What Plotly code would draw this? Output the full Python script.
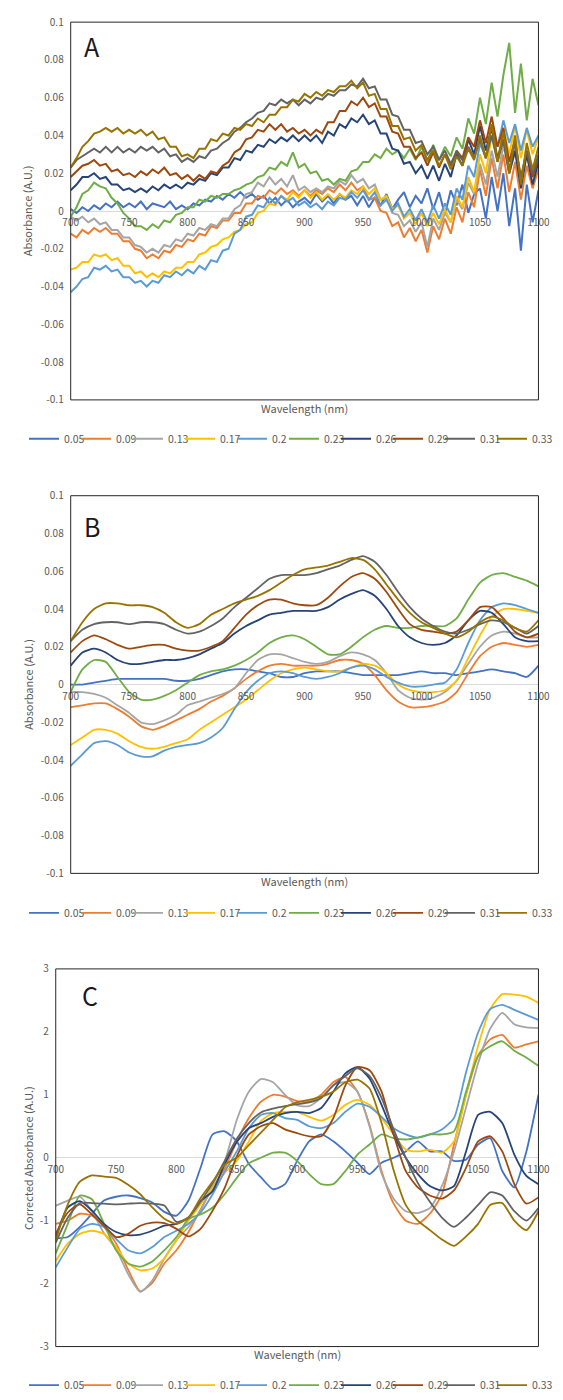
import plotly.graph_objects as go

# ---------------------------------------------------------------- data
WL_RAW = list(range(700, 1101, 5))      # raw spectra sampling (nm)
WL_SMOOTH = list(range(700, 1101, 10))  # smoothed / corrected spectra (nm)

LABELS = ["0.05", "0.09", "0.13", "0.17", "0.2", "0.23", "0.26", "0.29", "0.31", "0.33"]
COLORS = ["#4472C4", "#ED7D31", "#A5A5A5", "#FFC000", "#5B9BD5",
          "#70AD47", "#264478", "#9E480E", "#636363", "#997300"]

X_TICKS = [700, 750, 800, 850, 900, 950, 1000, 1050, 1100]
ABS_TICKS = [-0.1, -0.08, -0.06, -0.04, -0.02, 0, 0.02, 0.04, 0.06, 0.08, 0.1]
ABS_TICKTEXT = ["-0.1", "-0.08", "-0.06", "-0.04", "-0.02", "0", "0.02", "0.04", "0.06", "0.08", "0.1"]
CORR_TICKS = [-3, -2, -1, 0, 1, 2, 3]
CORR_TICKTEXT = ["-3", "-2", "-1", "0", "1", "2", "3"]

# A: raw absorbance
A_005 = [0.001, -0.001, 0.002, 0.000, 0.003, 0.001, 0.004, 0.002, 0.005, 0.002,
         0.004, 0.002, 0.005, 0.001, 0.004, 0.003, 0.002, 0.005, 0.001, 0.003,
         0.001, 0.004, 0.003, 0.006, 0.005, 0.008, 0.006, 0.009, 0.007, 0.010,
         0.007, 0.009, 0.006, 0.008, 0.004, 0.007, 0.003, 0.006, 0.002, 0.005,
         0.007, 0.004, 0.009, 0.005, 0.008, 0.004, 0.009, 0.006, 0.008, 0.003,
         0.008, 0.002, 0.007, 0.003, 0.009, 0.001, 0.006, 0.010, 0.002, 0.008,
         0.004, 0.012, 0.001, 0.010, -0.002, 0.011, 0.003, 0.014, -0.001, 0.009,
         0.012, -0.004, 0.018, 0.000, 0.020, -0.008, 0.012, -0.021, 0.014, -0.006,
         0.011]
A_009 = [-0.012, -0.014, -0.010, -0.012, -0.009, -0.011, -0.009, -0.012, -0.012, -0.016,
         -0.016, -0.020, -0.021, -0.025, -0.023, -0.025, -0.021, -0.022, -0.018, -0.019,
         -0.015, -0.016, -0.012, -0.013, -0.008, -0.009, -0.005, -0.005, -0.001, -0.001,
         0.004, 0.004, 0.008, 0.007, 0.011, 0.009, 0.012, 0.009, 0.011, 0.008,
         0.011, 0.008, 0.011, 0.009, 0.012, 0.010, 0.014, 0.011, 0.015, 0.011,
         0.013, 0.006, 0.007, 0.000, -0.001, -0.008, -0.006, -0.014, -0.009, -0.016,
         -0.010, -0.022, -0.008, -0.015, -0.004, -0.012, 0.002, -0.006, 0.010, 0.002,
         0.022, 0.008, 0.028, 0.012, 0.030, 0.010, 0.026, 0.006, 0.024, 0.012,
         0.022]
A_013 = [-0.003, -0.005, -0.003, -0.006, -0.004, -0.007, -0.006, -0.010, -0.010, -0.014,
         -0.014, -0.018, -0.019, -0.022, -0.020, -0.022, -0.018, -0.019, -0.015, -0.016,
         -0.012, -0.013, -0.009, -0.010, -0.007, -0.008, -0.004, -0.004, 0.001, 0.003,
         0.009, 0.010, 0.015, 0.013, 0.018, 0.014, 0.017, 0.013, 0.019, 0.011,
         0.013, 0.010, 0.012, 0.010, 0.013, 0.012, 0.016, 0.014, 0.019, 0.015,
         0.017, 0.012, 0.014, 0.006, 0.007, -0.001, -0.002, -0.008, -0.005, -0.011,
         -0.006, -0.019, -0.004, -0.010, -0.001, -0.006, 0.006, 0.001, 0.015, 0.009,
         0.025, 0.014, 0.032, 0.018, 0.035, 0.020, 0.031, 0.016, 0.030, 0.018,
         0.026]
A_017 = [-0.031, -0.030, -0.027, -0.027, -0.023, -0.024, -0.023, -0.026, -0.025, -0.029,
         -0.029, -0.033, -0.032, -0.035, -0.033, -0.035, -0.032, -0.033, -0.030, -0.030,
         -0.027, -0.027, -0.023, -0.022, -0.019, -0.018, -0.015, -0.014, -0.011, -0.010,
         -0.007, -0.006, -0.001, 0.000, 0.004, 0.003, 0.008, 0.006, 0.010, 0.007,
         0.011, 0.007, 0.010, 0.006, 0.009, 0.006, 0.009, 0.007, 0.011, 0.009,
         0.013, 0.009, 0.012, 0.006, 0.008, 0.001, 0.003, -0.004, -0.001, -0.007,
         -0.001, -0.008, -0.001, -0.007, 0.001, -0.006, 0.008, 0.002, 0.018, 0.010,
         0.030, 0.020, 0.040, 0.026, 0.044, 0.030, 0.045, 0.028, 0.043, 0.030,
         0.039]
A_020 = [-0.043, -0.040, -0.036, -0.035, -0.030, -0.031, -0.029, -0.032, -0.031, -0.035,
         -0.035, -0.038, -0.037, -0.040, -0.037, -0.038, -0.034, -0.035, -0.032, -0.034,
         -0.031, -0.033, -0.029, -0.031, -0.026, -0.027, -0.021, -0.020, -0.012, -0.010,
         -0.003, -0.002, 0.003, 0.002, 0.007, 0.004, 0.008, 0.005, 0.007, 0.003,
         0.005, 0.002, 0.004, 0.001, 0.005, 0.003, 0.007, 0.006, 0.010, 0.007,
         0.011, 0.006, 0.010, 0.003, 0.006, 0.000, 0.004, -0.003, 0.001, -0.005,
         0.001, -0.006, 0.003, -0.004, 0.004, -0.002, 0.012, 0.006, 0.024, 0.018,
         0.036, 0.028, 0.045, 0.034, 0.048, 0.036, 0.046, 0.032, 0.044, 0.034,
         0.040]
A_023 = [-0.003, 0.002, 0.009, 0.011, 0.015, 0.013, 0.012, 0.007, 0.004, -0.001,
         -0.004, -0.008, -0.008, -0.010, -0.007, -0.009, -0.005, -0.006, -0.002, -0.001,
         0.002, 0.002, 0.006, 0.005, 0.008, 0.007, 0.009, 0.009, 0.011, 0.012,
         0.014, 0.015, 0.018, 0.019, 0.023, 0.022, 0.026, 0.024, 0.031, 0.023,
         0.025, 0.020, 0.021, 0.016, 0.017, 0.014, 0.017, 0.016, 0.021, 0.022,
         0.026, 0.026, 0.030, 0.028, 0.033, 0.030, 0.032, 0.028, 0.033, 0.027,
         0.034, 0.026, 0.035, 0.027, 0.034, 0.029, 0.039, 0.033, 0.049, 0.041,
         0.060, 0.046, 0.068, 0.050, 0.072, 0.089, 0.052, 0.078, 0.048, 0.070,
         0.056]
A_026 = [0.011, 0.014, 0.018, 0.018, 0.020, 0.017, 0.018, 0.014, 0.014, 0.011,
         0.012, 0.010, 0.012, 0.010, 0.013, 0.011, 0.014, 0.012, 0.014, 0.012,
         0.015, 0.014, 0.017, 0.016, 0.020, 0.019, 0.023, 0.023, 0.028, 0.027,
         0.032, 0.031, 0.035, 0.034, 0.038, 0.036, 0.039, 0.037, 0.040, 0.037,
         0.040, 0.037, 0.040, 0.036, 0.042, 0.040, 0.046, 0.044, 0.049, 0.047,
         0.051, 0.046, 0.048, 0.041, 0.041, 0.033, 0.032, 0.025, 0.026, 0.020,
         0.024, 0.017, 0.024, 0.016, 0.025, 0.018, 0.030, 0.024, 0.038, 0.030,
         0.045, 0.032, 0.044, 0.028, 0.038, 0.020, 0.032, 0.012, 0.030, 0.014,
         0.026]
A_029 = [0.018, 0.021, 0.024, 0.025, 0.027, 0.024, 0.025, 0.021, 0.022, 0.019,
         0.020, 0.018, 0.021, 0.019, 0.022, 0.020, 0.023, 0.019, 0.020, 0.017,
         0.019, 0.016, 0.019, 0.017, 0.021, 0.020, 0.024, 0.026, 0.031, 0.033,
         0.038, 0.039, 0.043, 0.042, 0.046, 0.043, 0.046, 0.042, 0.044, 0.041,
         0.043, 0.040, 0.043, 0.041, 0.047, 0.047, 0.053, 0.053, 0.058, 0.056,
         0.060, 0.055, 0.057, 0.050, 0.050, 0.042, 0.041, 0.034, 0.034, 0.028,
         0.031, 0.024, 0.031, 0.023, 0.030, 0.024, 0.032, 0.028, 0.039, 0.034,
         0.048, 0.036, 0.050, 0.034, 0.044, 0.026, 0.038, 0.016, 0.032, 0.018,
         0.028]
A_031 = [0.023, 0.027, 0.029, 0.031, 0.033, 0.031, 0.034, 0.031, 0.034, 0.031,
         0.033, 0.031, 0.034, 0.032, 0.034, 0.031, 0.033, 0.029, 0.030, 0.026,
         0.028, 0.026, 0.029, 0.028, 0.032, 0.033, 0.036, 0.038, 0.042, 0.044,
         0.047, 0.049, 0.052, 0.053, 0.057, 0.056, 0.059, 0.057, 0.059, 0.056,
         0.059, 0.057, 0.060, 0.059, 0.062, 0.061, 0.064, 0.064, 0.067, 0.066,
         0.070, 0.065, 0.066, 0.059, 0.059, 0.051, 0.050, 0.043, 0.043, 0.036,
         0.037, 0.030, 0.034, 0.027, 0.032, 0.025, 0.031, 0.027, 0.034, 0.028,
         0.038, 0.028, 0.040, 0.026, 0.038, 0.022, 0.036, 0.018, 0.032, 0.020,
         0.030]
A_033 = [0.023, 0.028, 0.034, 0.037, 0.041, 0.042, 0.044, 0.042, 0.044, 0.041,
         0.043, 0.041, 0.043, 0.040, 0.042, 0.038, 0.039, 0.034, 0.034, 0.029,
         0.030, 0.028, 0.033, 0.033, 0.038, 0.037, 0.041, 0.040, 0.044, 0.043,
         0.046, 0.045, 0.049, 0.047, 0.051, 0.051, 0.055, 0.055, 0.059, 0.058,
         0.062, 0.060, 0.063, 0.061, 0.064, 0.063, 0.066, 0.066, 0.069, 0.065,
         0.068, 0.061, 0.062, 0.054, 0.054, 0.045, 0.045, 0.038, 0.039, 0.032,
         0.035, 0.027, 0.032, 0.024, 0.030, 0.022, 0.029, 0.024, 0.033, 0.027,
         0.040, 0.028, 0.046, 0.026, 0.042, 0.020, 0.040, 0.014, 0.036, 0.022,
         0.034]

# B: smoothed absorbance
B_005 = [0.000, 0.000, 0.001, 0.002, 0.003, 0.003, 0.003, 0.003, 0.003, 0.002,
         0.002, 0.003, 0.005, 0.007, 0.008, 0.008, 0.007, 0.006, 0.004, 0.004,
         0.006, 0.007, 0.007, 0.007, 0.006, 0.005, 0.005, 0.005, 0.005, 0.006,
         0.007, 0.006, 0.006, 0.005, 0.006, 0.007, 0.008, 0.007, 0.006, 0.004,
         0.010]
B_009 = [-0.012, -0.011, -0.010, -0.010, -0.013, -0.017, -0.022, -0.024, -0.022, -0.019,
         -0.016, -0.013, -0.009, -0.006, -0.002, 0.003, 0.007, 0.010, 0.011, 0.010,
         0.010, 0.010, 0.011, 0.013, 0.013, 0.011, 0.005, -0.003, -0.009, -0.012,
         -0.012, -0.011, -0.009, -0.004, 0.006, 0.015, 0.020, 0.022, 0.021, 0.020,
         0.021]
B_013 = [-0.004, -0.004, -0.005, -0.007, -0.011, -0.015, -0.020, -0.021, -0.019, -0.016,
         -0.011, -0.009, -0.007, -0.005, -0.002, 0.006, 0.013, 0.016, 0.016, 0.014,
         0.012, 0.011, 0.012, 0.015, 0.017, 0.016, 0.013, 0.006, -0.003, -0.007,
         -0.008, -0.007, -0.004, 0.002, 0.011, 0.020, 0.026, 0.028, 0.027, 0.025,
         0.025]
B_017 = [-0.032, -0.028, -0.024, -0.024, -0.026, -0.030, -0.033, -0.034, -0.033, -0.031,
         -0.029, -0.024, -0.020, -0.016, -0.012, -0.008, -0.003, 0.002, 0.006, 0.008,
         0.009, 0.008, 0.007, 0.007, 0.009, 0.011, 0.010, 0.006, 0.000, -0.003,
         -0.004, -0.004, -0.003, 0.002, 0.014, 0.026, 0.036, 0.040, 0.040, 0.039,
         0.038]
B_020 = [-0.043, -0.037, -0.031, -0.030, -0.032, -0.036, -0.038, -0.038, -0.035, -0.033,
         -0.032, -0.031, -0.028, -0.023, -0.013, -0.004, 0.002, 0.006, 0.007, 0.006,
         0.004, 0.003, 0.004, 0.006, 0.009, 0.010, 0.008, 0.004, 0.001, -0.001,
         -0.001, 0.000, 0.001, 0.008, 0.022, 0.034, 0.041, 0.043, 0.042, 0.040,
         0.038]
B_023 = [-0.004, 0.008, 0.013, 0.012, 0.004, -0.004, -0.008, -0.008, -0.006, -0.003,
         0.001, 0.005, 0.007, 0.008, 0.010, 0.013, 0.017, 0.022, 0.025, 0.026,
         0.024, 0.020, 0.016, 0.016, 0.020, 0.025, 0.029, 0.031, 0.030, 0.030,
         0.031, 0.031, 0.031, 0.035, 0.045, 0.054, 0.058, 0.059, 0.057, 0.055,
         0.052]
B_026 = [0.010, 0.017, 0.019, 0.017, 0.013, 0.011, 0.011, 0.012, 0.013, 0.013,
         0.014, 0.016, 0.019, 0.022, 0.027, 0.031, 0.034, 0.037, 0.038, 0.039,
         0.039, 0.039, 0.041, 0.045, 0.048, 0.050, 0.047, 0.040, 0.031, 0.025,
         0.022, 0.021, 0.022, 0.026, 0.034, 0.039, 0.038, 0.032, 0.025, 0.023,
         0.023]
B_029 = [0.017, 0.023, 0.026, 0.024, 0.021, 0.019, 0.020, 0.021, 0.021, 0.019,
         0.018, 0.018, 0.020, 0.023, 0.030, 0.037, 0.042, 0.045, 0.045, 0.043,
         0.042, 0.042, 0.046, 0.052, 0.057, 0.059, 0.056, 0.049, 0.040, 0.032,
         0.029, 0.028, 0.027, 0.028, 0.034, 0.041, 0.041, 0.035, 0.028, 0.025,
         0.027]
B_031 = [0.023, 0.029, 0.032, 0.033, 0.033, 0.032, 0.033, 0.033, 0.032, 0.029,
         0.027, 0.028, 0.031, 0.035, 0.041, 0.046, 0.051, 0.056, 0.058, 0.058,
         0.058, 0.059, 0.061, 0.063, 0.066, 0.068, 0.065, 0.058, 0.049, 0.041,
         0.035, 0.031, 0.028, 0.027, 0.029, 0.032, 0.034, 0.033, 0.030, 0.027,
         0.031]
B_033 = [0.023, 0.033, 0.040, 0.043, 0.043, 0.042, 0.042, 0.041, 0.038, 0.033,
         0.030, 0.032, 0.037, 0.040, 0.043, 0.045, 0.047, 0.050, 0.054, 0.058,
         0.061, 0.062, 0.063, 0.065, 0.067, 0.066, 0.061, 0.053, 0.045, 0.038,
         0.033, 0.030, 0.027, 0.025, 0.028, 0.033, 0.036, 0.034, 0.030, 0.028,
         0.034]

# C: corrected absorbance
C_005 = [-1.28, -1.26, -1.10, -0.89, -0.68, -0.62, -0.60, -0.64, -0.71, -0.86,
         -0.92, -0.68, -0.16, 0.37, 0.42, 0.26, -0.10, -0.31, -0.50, -0.42,
         -0.05, 0.26, 0.37, 0.26, 0.10, -0.08, -0.26, -0.08, 0.00, 0.10,
         0.26, 0.10, 0.10, -0.05, -0.03, 0.21, 0.31, -0.21, -0.47, 0.10,
         1.00]
C_009 = [-1.05, -1.00, -0.89, -0.92, -1.10, -1.36, -1.78, -2.12, -1.99, -1.68,
         -1.47, -1.18, -0.82, -0.48, -0.17, 0.26, 0.63, 0.89, 1.00, 0.97,
         0.90, 0.89, 1.00, 1.20, 1.28, 1.05, 0.52, -0.21, -0.73, -1.00,
         -1.05, -0.89, -0.58, 0.21, 1.00, 1.62, 1.88, 1.95, 1.75, 1.80,
         1.85]
C_013 = [-0.76, -0.68, -0.62, -0.85, -1.20, -1.45, -1.85, -2.13, -1.95, -1.60,
         -1.31, -1.10, -0.84, -0.43, -0.06, 0.60, 1.05, 1.25, 1.20, 1.00,
         0.83, 0.82, 0.95, 1.15, 1.20, 1.05, 0.50, -0.25, -0.65, -0.85,
         -0.88, -0.80, -0.45, 0.10, 0.80, 1.50, 2.05, 2.30, 2.12, 2.07,
         2.06]
C_017 = [-1.64, -1.36, -1.21, -1.16, -1.21, -1.42, -1.68, -1.79, -1.76, -1.60,
         -1.31, -1.00, -0.74, -0.48, -0.24, -0.05, 0.26, 0.58, 0.71, 0.73,
         0.73, 0.65, 0.59, 0.68, 0.84, 0.92, 0.84, 0.63, 0.37, 0.13,
         0.10, 0.13, 0.08, 0.26, 1.00, 1.78, 2.36, 2.60, 2.59, 2.56,
         2.46]
C_020 = [-1.74, -1.42, -1.13, -1.05, -1.10, -1.29, -1.47, -1.52, -1.42, -1.26,
         -1.16, -1.05, -0.87, -0.58, -0.22, 0.10, 0.47, 0.68, 0.71, 0.63,
         0.60, 0.50, 0.47, 0.55, 0.73, 0.86, 0.81, 0.65, 0.47, 0.37,
         0.32, 0.37, 0.45, 0.63, 1.36, 1.99, 2.36, 2.43, 2.35, 2.27,
         2.19]
C_023 = [-1.52, -1.05, -0.60, -0.66, -1.05, -1.47, -1.68, -1.73, -1.65, -1.47,
         -1.26, -0.97, -0.90, -0.79, -0.58, -0.32, -0.09, 0.00, 0.08, 0.08,
         -0.05, -0.26, -0.42, -0.42, -0.21, 0.05, 0.21, 0.37, 0.31, 0.29,
         0.32, 0.37, 0.37, 0.42, 1.05, 1.62, 1.77, 1.85, 1.70, 1.59,
         1.46]
C_026 = [-1.26, -0.79, -0.69, -0.84, -1.05, -1.18, -1.23, -1.22, -1.16, -1.08,
         -1.05, -0.95, -0.69, -0.53, -0.10, 0.25, 0.47, 0.55, 0.65, 0.71,
         0.73, 0.71, 0.79, 1.05, 1.34, 1.44, 1.26, 0.84, 0.37, 0.00,
         -0.26, -0.45, -0.52, -0.45, 0.10, 0.68, 0.73, 0.55, 0.05, -0.29,
         -0.42]
C_029 = [-1.21, -0.87, -0.74, -0.90, -1.08, -1.26, -1.21, -1.08, -1.03, -1.04,
         -1.13, -1.25, -1.13, -0.84, -0.48, 0.02, 0.37, 0.50, 0.55, 0.45,
         0.39, 0.34, 0.34, 0.63, 1.15, 1.44, 1.39, 1.05, 0.37, -0.21,
         -0.47, -0.60, -0.65, -0.52, -0.16, 0.26, 0.34, 0.10, -0.42, -0.73,
         -0.63]
C_031 = [-1.35, -0.95, -0.72, -0.72, -0.73, -0.74, -0.73, -0.72, -0.73, -0.76,
         -1.02, -0.95, -0.70, -0.40, -0.05, 0.30, 0.55, 0.72, 0.78, 0.82,
         0.85, 0.88, 0.95, 1.15, 1.30, 1.42, 1.30, 0.95, 0.45, 0.00,
         -0.40, -0.70, -0.95, -1.10, -0.95, -0.75, -0.55, -0.60, -0.85, -1.00,
         -0.80]
C_033 = [-1.31, -0.74, -0.38, -0.28, -0.30, -0.32, -0.43, -0.58, -0.79, -0.97,
         -1.05, -0.95, -0.64, -0.38, -0.11, 0.00, 0.20, 0.40, 0.60, 0.80,
         0.88, 0.92, 0.97, 1.05, 1.20, 1.24, 1.10, 0.55, -0.20, -0.75,
         -1.00, -1.15, -1.30, -1.40, -1.25, -1.05, -0.75, -0.72, -1.00, -1.15,
         -0.85]

PANEL_A = [A_005, A_009, A_013, A_017, A_020, A_023, A_026, A_029, A_031, A_033]
PANEL_B = [B_005, B_009, B_013, B_017, B_020, B_023, B_026, B_029, B_031, B_033]
PANEL_C = [C_005, C_009, C_013, C_017, C_020, C_023, C_026, C_029, C_031, C_033]

# ---------------------------------------------------------------- layout
W, H = 563, 1400
FONT = "Noto Sans CJK JP"
GREY = "#595959"


def px_x(p):
    return p / W


def px_y(p):
    return 1 - p / H


# axis ids, plot box (px), legend id, legend centre y, x-title y, panel letter and its position
PANELS = [
    ("x", "y", 65, 550, 13.3, 395.7, "legend", 435, 404, "A", (87, 37)),
    ("x2", "y2", 65, 550, 492.7, 875, "legend2", 915, 883, "B", (87, 523)),
    ("x3", "y3", 49.5, 550, 971.7, 1354, "legend3", 1393, 1362, "C", (85, 998)),
]

fig = go.Figure()

datasets = [(PANEL_A, WL_RAW, "linear", 2.0),
            (PANEL_B, WL_SMOOTH, "spline", 1.8),
            (PANEL_C, WL_SMOOTH, "spline", 1.8)]

for panel, (series, wl, shape, lw) in zip(PANELS, datasets):
    xa, ya, legend_id = panel[0], panel[1], panel[6]
    for k, (name, color, vals) in enumerate(zip(LABELS, COLORS, series)):
        line = dict(color=color, width=lw, shape=shape)
        if shape == "spline":
            line["smoothing"] = 0.6
        fig.add_trace(go.Scatter(
            x=wl, y=vals, name=name, mode="lines", line=line,
            xaxis=xa, yaxis=ya, legend=legend_id,
            # the last entry of each row gets room for its full label
            legendwidth=26 if k == len(LABELS) - 1 else None,
        ))

layout = dict(
    width=W, height=H, margin=dict(l=0, r=0, t=0, b=0),
    paper_bgcolor="white", plot_bgcolor="white",
    font=dict(family=FONT, color=GREY, size=10),
    shapes=[], annotations=[],
)

for i, (xa, ya, l, r, t, b, leg, leg_y, title_y, letter, (lx, ly)) in enumerate(PANELS):
    xkey = "xaxis" if xa == "x" else "xaxis" + xa[1:]
    ykey = "yaxis" if ya == "y" else "yaxis" + ya[1:]
    y0, y1 = px_y(b), px_y(t)
    is_corr = (i == 2)
    layout[xkey] = dict(
        domain=[px_x(l), px_x(r)], range=[700, 1100], anchor="free",
        position=(y0 + y1) / 2, tickvals=X_TICKS, ticks="", showgrid=False,
        zeroline=False, showline=False, tickfont=dict(size=10, color=GREY),
        ticklabelstandoff=4,
    )
    layout[ykey] = dict(
        domain=[y0, y1], range=[-3, 3] if is_corr else [-0.1, 0.1], anchor=xa,
        tickvals=CORR_TICKS if is_corr else ABS_TICKS,
        ticktext=CORR_TICKTEXT if is_corr else ABS_TICKTEXT,
        ticks="", showgrid=False, showline=False,
        zeroline=True, zerolinecolor="#D9D9D9", zerolinewidth=1,
        tickfont=dict(size=10, color=GREY), ticklabelstandoff=6,
    )
    layout["shapes"].append(dict(
        type="rect", xref=f"{xa} domain", yref=f"{ya} domain",
        x0=0, x1=1, y0=0, y1=1, line=dict(color="#262626", width=1), layer="above",
    ))
    layout["annotations"] += [
        dict(text="Wavelength (nm)", xref="paper", yref="paper",
             x=px_x((l + r) / 2), y=px_y(title_y), showarrow=False,
             font=dict(size=11, color=GREY), xanchor="center", yanchor="middle"),
        dict(text="Corrected Absorbance (A.U.)" if is_corr else "Absorbance (A.U.)",
             xref="paper", yref="paper", x=px_x(20), y=(y0 + y1) / 2,
             textangle=-90, showarrow=False, font=dict(size=11, color=GREY),
             xanchor="center", yanchor="middle"),
        dict(text=letter, xref="paper", yref="paper", x=px_x(lx), y=px_y(ly),
             showarrow=False, font=dict(size=25, color="#1a1a1a"),
             xanchor="center", yanchor="middle"),
    ]
    layout[leg] = dict(
        orientation="h", x=px_x(26), xanchor="left", y=px_y(leg_y), yanchor="middle",
        entrywidth=7, itemwidth=30, bgcolor="rgba(0,0,0,0)",
        font=dict(size=10.5, color=GREY, family=FONT), tracegroupgap=0,
    )

fig.update_layout(**layout)
fig.write_html("out.html")
